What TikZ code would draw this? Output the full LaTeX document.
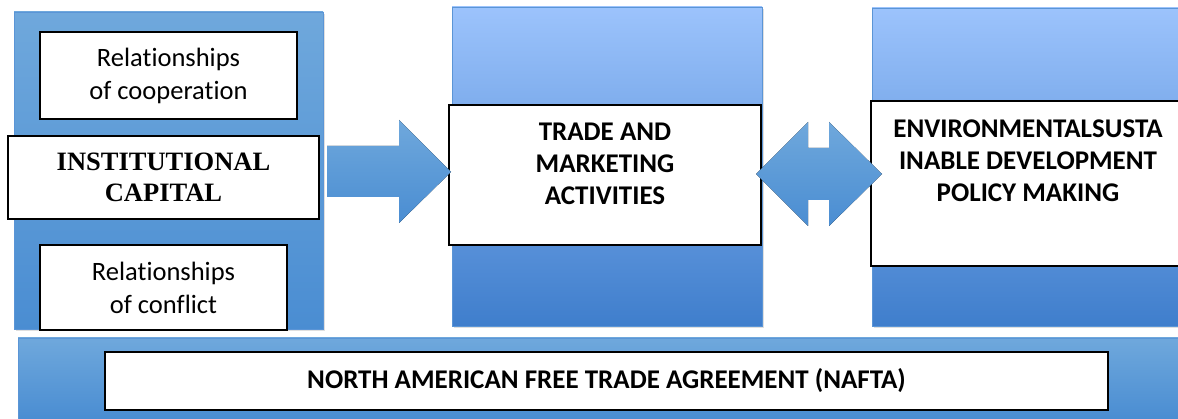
\documentclass[tikz,border=0pt]{standalone}
\usepackage{fontspec}
\setmainfont{Carlito}[Ligatures=NoCommon]
\newfontfamily\timesfont{Liberation Serif}
\usetikzlibrary{shadows}
\definecolor{paneltop}{HTML}{6FA8DC}
\definecolor{panelbot}{HTML}{4A8DD2}
\definecolor{lighttop}{HTML}{9CC3FC}
\definecolor{lightbot}{HTML}{3F7ECC}
\definecolor{paneledge}{HTML}{5B95D6}
\begin{document}
\begin{tikzpicture}[x=1pt, y=1pt,
	panel/.style={draw=paneledge, line width=0.8pt, top color=paneltop, bottom color=panelbot,
		drop shadow={shadow xshift=2pt, shadow yshift=-2pt, opacity=0.25}},
	lightpanel/.style={panel, top color=lighttop, bottom color=lightbot},
	whitebox/.style={draw=black, line width=1.3pt, fill=white, align=center, inner sep=0pt},
	blockarrow/.style={top color=paneltop, bottom color=panelbot},
	plain/.style={font=\fontsize{26.5}{33}\selectfont, align=center},
	caps/.style={font=\bfseries\fontsize{27}{32}\selectfont, align=center}]
	
	\useasboundingbox (0,0) rectangle (1178,419);
	
	% Draw the blue panels behind the boxes
	\draw[panel] (14,90) rectangle (323,407);
	\draw[lightpanel] (452,93) rectangle (762,412);
	\draw[lightpanel] (872,93) rectangle (1190,411);
	\draw[panel] (18,0) rectangle (1190,81);
	
	% Left column: institutional capital and its relationships
	\node[whitebox, plain, minimum width=257, minimum height=87] (coop) at (168.5,343.5) {Relationships\\of cooperation};
	\node[whitebox, minimum width=311, minimum height=83,
		font=\timesfont\bfseries\fontsize{26.5}{31}\selectfont] (inst) at (163.5,241.5) {INSTITUTIONAL\\CAPITAL};
	\node[whitebox, plain, minimum width=247, minimum height=85] (conf) at (163.5,131.5) {Relationships\\of conflict};
	
	% Middle and right boxes, text set in their upper part
	\node[whitebox, minimum width=312, minimum height=140] (trade) at (605,244) {};
	\node[caps] (tradetxt) at ([yshift=11pt]trade.center) {TRADE AND\\MARKETING\\ACTIVITIES};
	\node[whitebox, minimum width=314, minimum height=165] (env) at (1028,235.5) {};
	\node[caps] (envtxt) at ([yshift=23pt]env.center) {ENVIRONMENTALSUSTA\\INABLE DEVELOPMENT\\POLICY MAKING};
	
	% Bottom bar
	\node[whitebox, caps, minimum width=1003, minimum height=58] (nafta) at (606.5,38) {NORTH AMERICAN FREE TRADE AGREEMENT (NAFTA)};
	
	% Block arrows between the columns
	\fill[blockarrow] (327,222) -- (399,222) -- (399,196) -- (451,247) -- (399,299) -- (399,273) -- (327,273) -- cycle;
	\fill[blockarrow] (756,245) -- (808,297) -- (808,271) -- (829,271) -- (829,297) -- (882,245)
		-- (829,193) -- (829,219) -- (808,219) -- (808,193) -- cycle;
	
\end{tikzpicture}
\end{document}
